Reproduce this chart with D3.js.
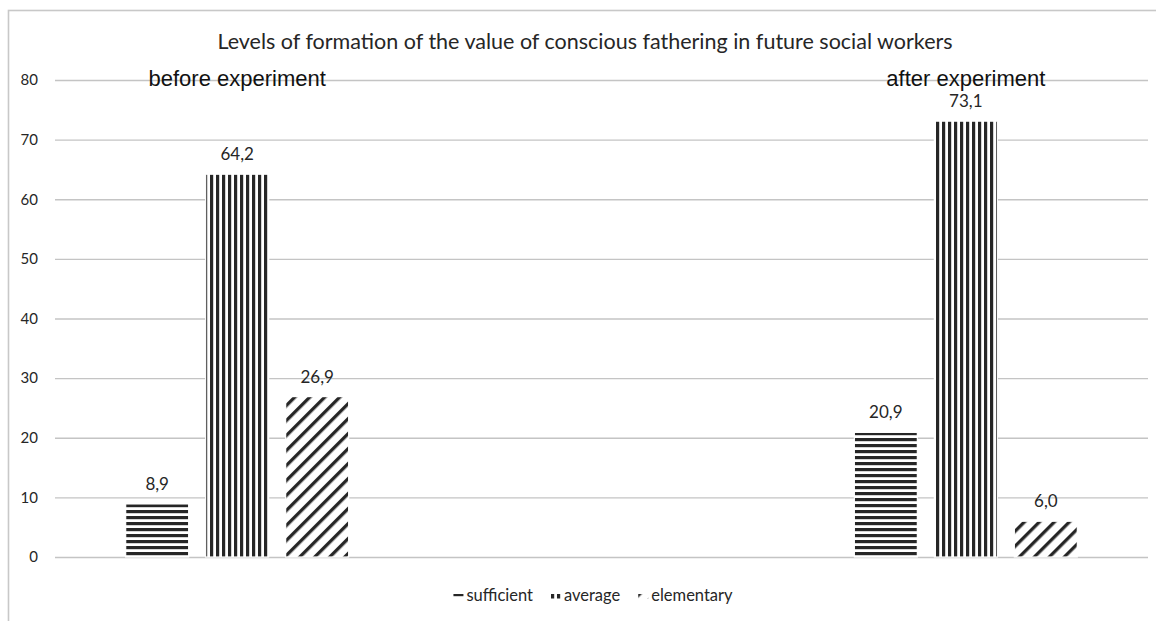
<!DOCTYPE html>
<html>
<head>
<meta charset="utf-8">
<script src="https://cdn.jsdelivr.net/npm/d3@7"></script>
<style>
  body { margin: 0; background: #fff; }
  svg { display: block; }
</style>
</head>
<body>
<svg id="chart" width="1156" height="621"></svg>
<script>
// Data
const categories = ["before experiment", "", "after experiment"];
const seriesNames = ["sufficient", "average", "elementary"];
const sufficient = [8.9, null, 20.9];
const average = [64.2, null, 73.1];
const elementary = [26.9, null, 6.0];
const yTicks = [0, 10, 20, 30, 40, 50, 60, 70, 80];
const chartTitle = "Levels of formation of the value of conscious fathering in future social workers";

const seriesValues = { sufficient, average, elementary };

const svg = d3.select("#chart");
const W = 1156, H = 621;
const plotLeft = 55, plotRight = 1148, plotTop = 80, plotBottom = 557;
const ink = "#262626";
const bodyFont = "Lato, 'Open Sans', sans-serif";

// Hatch patterns
const defs = svg.append("defs");
const pH = defs.append("pattern").attr("id", "hatch-sufficient")
  .attr("patternUnits", "userSpaceOnUse").attr("width", 6).attr("height", 6);
pH.append("rect").attr("width", 6).attr("height", 6).attr("fill", "#fff");
pH.append("rect").attr("width", 6).attr("height", 3.2).attr("fill", ink);

const pV = defs.append("pattern").attr("id", "hatch-average")
  .attr("patternUnits", "userSpaceOnUse").attr("width", 6).attr("height", 6);
pV.append("rect").attr("width", 6).attr("height", 6).attr("fill", "#fff");
pV.append("rect").attr("width", 3.2).attr("height", 6).attr("fill", ink);

const pD = defs.append("pattern").attr("id", "hatch-elementary")
  .attr("patternUnits", "userSpaceOnUse").attr("width", 10.6).attr("height", 10.6)
  .attr("patternTransform", "rotate(45)");
pD.append("rect").attr("width", 10.6).attr("height", 10.6).attr("fill", "#fff");
pD.append("rect").attr("width", 3.3).attr("height", 10.6).attr("fill", ink);

// Chart frame
svg.append("rect")
  .attr("x", 8.5).attr("y", 10.5).attr("width", W + 40).attr("height", H + 40)
  .attr("fill", "#fff").attr("stroke", "#c8c8c8").attr("stroke-width", 1.6);

// Scales
const x0 = d3.scaleBand().domain(categories).range([plotLeft, plotRight])
  .paddingInner(0.388).paddingOuter(0.194);
const x1 = d3.scaleBand().domain(seriesNames).range([0, x0.bandwidth()])
  .paddingInner(0.2125).paddingOuter(0);
const y = d3.scaleLinear().domain([0, 80]).range([plotBottom, plotTop]);

// Gridlines and value axis
const yAxis = svg.append("g")
  .attr("transform", `translate(${plotLeft},0)`)
  .call(d3.axisLeft(y).tickValues(yTicks).tickSize(-(plotRight - plotLeft)).tickPadding(17).tickFormat(d3.format("d")));
yAxis.select(".domain").remove();
yAxis.selectAll(".tick line").attr("stroke", "#c4c4c4").attr("stroke-width", 1.3);
yAxis.selectAll(".tick text")
  .attr("fill", "#262626").attr("font-family", bodyFont).attr("font-size", 15);

// Bars
const comma = d3.formatLocale({ decimal: ",", thousands: " ", grouping: [3], currency: ["", ""] }).format(".1f");
const rows = [];
categories.forEach((c, i) => {
  seriesNames.forEach(s => {
    const v = seriesValues[s][i];
    if (v != null) rows.push({ cat: c, series: s, value: v });
  });
});

svg.append("g").selectAll("rect").data(rows).join("rect")
  .attr("x", d => x0(d.cat) + x1(d.series))
  .attr("y", d => y(d.value))
  .attr("width", x1.bandwidth())
  .attr("height", d => y(0) - y(d.value))
  .attr("fill", d => `url(#hatch-${d.series})`)
  .attr("stroke", "#fff").attr("stroke-width", 1.2);

// Value labels
svg.append("g").selectAll("text").data(rows).join("text")
  .attr("x", d => x0(d.cat) + x1(d.series) + x1.bandwidth() / 2)
  .attr("y", d => y(d.value) - 14)
  .attr("text-anchor", "middle")
  .attr("font-family", bodyFont).attr("font-size", 17)
  .attr("fill", "#262626")
  .text(d => comma(d.value));

// Group captions over each block of bars
svg.append("g").selectAll("text").data(categories.filter(c => c)).join("text")
  .attr("x", d => x0(d) + x0.bandwidth() / 2)
  .attr("y", 86)
  .attr("text-anchor", "middle")
  .attr("font-family", "'Liberation Sans', Arial, sans-serif").attr("font-size", 22)
  .attr("fill", "#111")
  .text(d => d);

// Title
svg.append("text")
  .attr("x", 585).attr("y", 49)
  .attr("text-anchor", "middle")
  .attr("font-family", bodyFont).attr("font-size", 21.5)
  .attr("fill", "#262626")
  .text(chartTitle);

// Legend
const legend = svg.append("g");
const items = legend.selectAll("g").data(seriesNames).join("g");
items.append("rect")
  .attr("y", 1)
  .attr("width", 10).attr("height", 4.5)
  .attr("fill", d => `url(#hatch-${d})`);
items.append("text")
  .attr("x", 13).attr("y", 8)
  .attr("font-family", bodyFont).attr("font-size", 16.5)
  .attr("fill", "#262626")
  .text(d => d);
const widths = [];
items.each(function () {
  widths.push(13 + this.querySelector("text").getComputedTextLength());
});
const gap = 18;
const total = d3.sum(widths) + gap * (widths.length - 1);
let cx = 593 - total / 2;
items.attr("transform", (d, i) => {
  const t = `translate(${cx},${593})`;
  cx += widths[i] + gap;
  return t;
});
</script>
</body>
</html>
